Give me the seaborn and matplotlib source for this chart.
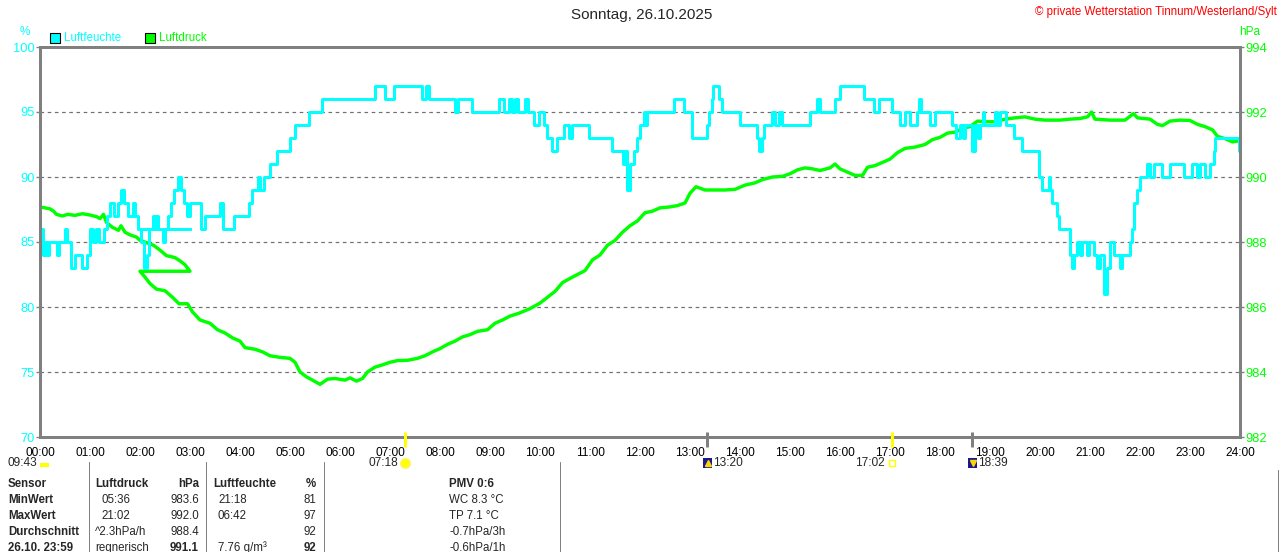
import matplotlib
matplotlib.use("Agg")
import matplotlib.pyplot as plt
import matplotlib.transforms as mtransforms
from matplotlib.patches import Rectangle
import seaborn as sns

W, H = 1280, 552

# humidity (%), step values; time in hours, DST switch: 0-3 first pass, then back to 2:00
hum_t = [0.00, 0.03, 0.06, 0.10, 0.13, 0.18, 0.33, 0.38, 0.50, 0.53, 0.62, 0.70, 0.83, 0.93,
         1.00, 1.05, 1.12, 1.18, 1.27, 1.33, 1.40, 1.47, 1.55, 1.62, 1.68, 1.75, 1.85, 1.90,
         1.95, 2.02, 2.08, 2.13, 2.18, 2.30, 2.35, 2.45, 2.50, 3.00,
         2.00, 2.25, 2.30, 2.55, 2.62, 2.68, 2.75, 2.82, 2.88, 2.94, 3.00, 3.22, 3.30, 3.60,
         3.65, 3.87, 4.17, 4.23, 4.35, 4.40, 4.47, 4.60, 4.73, 5.00, 5.10, 5.37, 5.63, 6.70,
         6.90, 7.07, 7.63, 7.72, 7.77, 8.30, 8.37, 8.63, 9.17, 9.27, 9.38, 9.43, 9.50, 9.55,
         9.70, 9.75, 9.87, 9.97, 10.07, 10.13, 10.23, 10.33, 10.47, 10.57, 10.63, 10.97,
         11.43, 11.65, 11.70, 11.73, 11.80, 11.87, 11.93, 12.00, 12.07, 12.10, 12.13, 12.67,
         12.87, 13.03, 13.33, 13.38, 13.43, 13.45, 13.57, 13.63, 14.00, 14.33, 14.38, 14.43,
         14.47, 14.63, 14.70, 14.77, 14.83, 15.40, 15.53, 15.60, 15.90, 16.00, 16.47, 16.67,
         16.77, 17.03, 17.20, 17.30, 17.40, 17.53, 17.57, 17.62, 17.80, 17.90, 18.23, 18.33,
         18.40, 18.45, 18.50, 18.63, 18.70, 18.75, 18.80, 18.85, 18.88, 19.10, 19.15, 19.20,
         19.33, 19.47, 19.63, 19.97, 20.03, 20.17, 20.20, 20.23, 20.33, 20.37, 20.60, 20.63,
         20.67, 20.73, 20.80, 20.83, 20.93, 20.97, 21.07, 21.13, 21.20, 21.27, 21.33, 21.40,
         21.47, 21.60, 21.63, 21.80, 21.83, 21.87, 21.93, 22.00, 22.13, 22.20, 22.27, 22.43,
         22.60, 22.87, 23.03, 23.13, 23.20, 23.30, 23.40, 23.47, 23.50, 23.98, 24.00]
hum_v = [85, 86, 84, 85, 84, 85, 84, 85, 86, 85, 83, 84, 83, 84,
         86, 85, 86, 85, 86, 87, 88, 87, 88, 89, 88, 87, 88, 87,
         86, 85, 83, 84, 86, 87, 86, 85, 86, 86,
         86, 87, 86, 87, 88, 89, 90, 89, 88, 87, 88, 86, 87, 88,
         86, 87, 88, 89, 90, 89, 90, 91, 92, 93, 94, 95, 96, 97,
         96, 97, 96, 97, 96, 95, 96, 95, 96, 95, 96, 95, 96, 95,
         96, 95, 94, 95, 94, 93, 92, 93, 94, 93, 94, 93,
         92, 91, 92, 89, 91, 92, 93, 94, 95, 94, 95, 96,
         95, 93, 94, 95, 96, 97, 96, 95, 94, 93, 92, 93,
         94, 95, 94, 95, 94, 95, 96, 95, 96, 97, 96, 95,
         96, 95, 94, 95, 94, 95, 96, 95, 94, 95, 94, 93,
         94, 93, 94, 92, 94, 93, 94, 95, 94, 95, 94, 95,
         94, 93, 92, 90, 89, 90, 89, 88, 87, 86, 84, 83,
         84, 85, 84, 85, 84, 85, 84, 83, 84, 81, 83, 85,
         84, 83, 84, 85, 86, 88, 89, 90, 91, 90, 91, 90,
         91, 90, 91, 90, 91, 90, 91, 92, 93, 92, 92]

# air pressure (hPa)
pres_t = [0.00, 0.10, 0.20, 0.27, 0.33, 0.45, 0.55, 0.70, 0.85, 1.00, 1.13, 1.20, 1.27, 1.33,
          1.45, 1.57, 1.62, 1.70, 1.80, 1.93, 2.00, 2.15, 2.27, 2.40, 2.53, 2.70, 2.80, 2.90, 3.00,
          2.00, 2.10, 2.20, 2.33, 2.50, 2.65, 2.78, 2.95, 3.05, 3.20, 3.40, 3.55, 3.70, 3.85,
          4.00, 4.10, 4.30, 4.45, 4.60, 4.80, 5.00, 5.10, 5.20, 5.33, 5.45, 5.60, 5.75, 5.90,
          6.10, 6.20, 6.33, 6.45, 6.55, 6.70, 6.85, 7.00, 7.15, 7.35, 7.55, 7.70, 7.85, 8.00,
          8.15, 8.30, 8.45, 8.60, 8.75, 8.95, 9.10, 9.25, 9.40, 9.60, 9.80, 10.00, 10.15, 10.30,
          10.45, 10.60, 10.75, 10.90, 11.05, 11.20, 11.35, 11.50, 11.65, 11.80, 11.95, 12.10,
          12.25, 12.40, 12.60, 12.75, 12.90, 13.00, 13.12, 13.30, 13.50, 13.70, 13.90, 14.10,
          14.30, 14.45, 14.65, 14.85, 15.00, 15.15, 15.30, 15.45, 15.60, 15.80, 15.90, 16.00,
          16.15, 16.30, 16.45, 16.55, 16.70, 16.85, 17.00, 17.15, 17.30, 17.50, 17.70, 17.85,
          18.00, 18.15, 18.30, 18.47, 18.60, 18.75, 18.90, 19.10, 19.30, 19.50, 19.70, 19.90,
          20.10, 20.40, 20.60, 20.80, 20.95, 21.03, 21.10, 21.40, 21.70, 21.87, 21.95, 22.20,
          22.35, 22.45, 22.60, 22.80, 23.00, 23.15, 23.30, 23.45, 23.55, 23.70, 23.85, 24.00]
pres_v = [989.08, 989.05, 989.02, 988.95, 988.85, 988.80, 988.85, 988.82, 988.87, 988.83,
          988.78, 988.72, 988.85, 988.60, 988.45, 988.36, 988.50, 988.30, 988.22, 988.15,
          988.05, 987.97, 987.90, 987.75, 987.58, 987.52, 987.42, 987.30, 987.10,
          987.10, 986.92, 986.72, 986.55, 986.50, 986.30, 986.10, 986.10, 985.85, 985.60,
          985.50, 985.30, 985.20, 985.05, 984.95, 984.75, 984.70, 984.62, 984.50, 984.45,
          984.42, 984.30, 984.00, 983.85, 983.75, 983.62, 983.78, 983.80, 983.75, 983.82,
          983.72, 983.80, 984.00, 984.15, 984.22, 984.30, 984.35, 984.36, 984.42, 984.50,
          984.62, 984.72, 984.85, 984.95, 985.08, 985.15, 985.25, 985.30, 985.50, 985.60,
          985.72, 985.82, 985.95, 986.12, 986.30, 986.48, 986.75, 986.88, 987.00, 987.12,
          987.45, 987.60, 987.90, 988.05, 988.30, 988.50, 988.65, 988.90, 988.95, 989.05,
          989.08, 989.12, 989.20, 989.50, 989.70, 989.60, 989.60, 989.60, 989.62, 989.75,
          989.82, 989.92, 990.00, 990.02, 990.10, 990.22, 990.28, 990.25, 990.20, 990.28,
          990.40, 990.25, 990.15, 990.05, 990.05, 990.30, 990.35, 990.45, 990.55, 990.75,
          990.88, 990.92, 991.00, 991.15, 991.22, 991.35, 991.38, 991.50, 991.55, 991.72,
          991.70, 991.70, 991.78, 991.82, 991.85, 991.78, 991.75, 991.75, 991.78, 991.80,
          991.85, 992.00, 991.78, 991.75, 991.75, 991.95, 991.82, 991.78, 991.62, 991.58,
          991.72, 991.75, 991.74, 991.62, 991.55, 991.45, 991.25, 991.18, 991.08, 991.12]

hours = list(range(25))
hour_labels = [f"{h:02d}:00" for h in hours]
hum_ticks = [70, 75, 80, 85, 90, 95, 100]
pres_ticks = [982, 984, 986, 988, 990, 992, 994]

# sun / moon events below the time axis (hour, label)
sunrise = (7 + 18 / 60, "07:18")
sunset = (17 + 2 / 60, "17:02")
moonrise = (13 + 20 / 60, "13:20")
moonset = (18 + 39 / 60, "18:39")
daylength = "09:43"

title = "Sonntag, 26.10.2025"
copyright_txt = "© private Wetterstation Tinnum/Westerland/Sylt"

col_sensor = ["Sensor", "MinWert", "MaxWert", "Durchschnitt", "26.10. 23:59"]
col_p_time = ["Luftdruck", "05:36", "21:02", "^2.3hPa/h", "regnerisch"]
col_p_val = ["hPa", "983.6", "992.0", "988.4", "991.1"]
col_h_time = ["Luftfeuchte", "21:18", "06:42", "", "7.76 g/m³"]
col_h_val = ["%", "81", "97", "92", "92"]
col_extra = ["PMV 0:6", "WC 8.3 °C", "TP 7.1 °C", "-0.7hPa/3h", "-0.6hPa/1h"]

CYAN = "#00FFFF"
GREEN = "#00FF00"
GREY = "#808080"

sns.set_style("white")
plt.rcParams["font.family"] = ["Liberation Sans", "DejaVu Sans"]
plt.rcParams["font.size"] = 8.3

fig = plt.figure(figsize=(W / 100, H / 100), dpi=100)
fig.patch.set_facecolor("white")
ax = fig.add_axes([40 / W, 1 - 437 / H, 1200 / W, 390 / H])
ax2 = ax.twinx()

# humidity axis in front, transparent, so cyan lies over green
ax.set_zorder(ax2.get_zorder() + 1)
ax.patch.set_visible(False)
ax2.patch.set_facecolor("white")

px = 72 / 100  # one pixel in points

sns.lineplot(x=pres_t, y=pres_v, ax=ax2, sort=False, estimator=None,
             color=GREEN, lw=3.4 * px)
sns.lineplot(x=hum_t, y=hum_v, ax=ax, sort=False, estimator=None,
             color=CYAN, lw=3 * px, drawstyle="steps-post")

ax.set_xlim(0, 24)
ax.set_ylim(70, 100)
ax2.set_ylim(982, 994)

ax.set_xticks(hours)
ax.set_xticklabels(hour_labels)
ax.set_yticks(hum_ticks)
ax2.set_yticks(pres_ticks)

# grid on back axis
ax2.set_xticks(hours)
ax2.grid(True, axis="both", color="#707070", lw=1.2 * px, linestyle=(0, (3, 3)))
ax.grid(False)

ax.tick_params(axis="x", colors=GREY, labelcolor="black", length=4 * px, width=1,
               pad=4, labelsize=8.6)
ax.tick_params(axis="y", colors=GREY, labelcolor=CYAN, length=4 * px, width=1,
               pad=1, labelsize=9.3)
ax2.tick_params(axis="y", colors=GREY, labelcolor=GREEN, length=4 * px, width=1,
                pad=1, labelsize=9.3)
ax2.tick_params(axis="x", length=0, labelbottom=False)
ax.set_xlabel("")
ax.set_ylabel("")
ax2.set_ylabel("")

for a in (ax, ax2):
    for s in a.spines.values():
        s.set_color(GREY)
        s.set_linewidth(3 * px)

# sun / moon marks on the time axis
trans = mtransforms.blended_transform_factory(ax.transData, ax.transAxes)
y0, y1 = (437 - 432) / 390, (437 - 447) / 390
for hh, col in [(sunrise[0], "#FFFF00"), (sunset[0], "#FFFF00"),
                (moonrise[0], GREY), (moonset[0], GREY)]:
    ax.plot([hh, hh], [y0, y1], transform=trans, color=col, lw=3 * px,
            clip_on=False, zorder=10, solid_capstyle="butt")


def ftxt(x, y, s, **kw):
    kw.setdefault("va", "center")
    return fig.text(x / W, 1 - y / H, s, **kw)


def fx(x):
    return x / W


def fy(y):
    return 1 - y / H


ftxt(642, 15, title, ha="center", fontsize=11)
ftxt(1277, 12, copyright_txt, ha="right", color="#FF0000", fontsize=8.3)
ftxt(25, 32, "%", ha="center", color=CYAN, fontsize=8.5)
ftxt(1250, 32, "hPa", ha="center", color=GREEN, fontsize=8.5)

# legend
for x0, col, lab in [(50, CYAN, "Luftfeuchte"), (145, GREEN, "Luftdruck")]:
    fig.patches.append(Rectangle((fx(x0), fy(43)), 10 / W, 10 / H, transform=fig.transFigure,
                                 facecolor=col, edgecolor="black", lw=0.8))
    ftxt(x0 + 14, 38, lab, ha="left", color=col, fontsize=8.3)

# event labels
ftxt(37, 463, daylength, ha="right", fontsize=8.6)
fig.patches.append(Rectangle((fx(40), fy(467)), 9 / W, 4 / H, transform=fig.transFigure,
                             facecolor="#FFFF00", edgecolor="none"))
ftxt(398, 463, sunrise[1], ha="right", fontsize=8.6)
fig.add_artist(plt.Line2D([fx(405)], [fy(463)], marker="o", markersize=7, color="#FFFF00",
                          markeredgecolor="#FFF27A", transform=fig.transFigure))
ftxt(885, 463, sunset[1], ha="right", fontsize=8.6)
fig.patches.append(Rectangle((fx(889), fy(466)), 6 / W, 6 / H, transform=fig.transFigure,
                             facecolor="white", edgecolor="#FFFF00", lw=1))
for xi, lab, mark in [(703, moonrise[1], "^"), (968, moonset[1], "v")]:
    fig.patches.append(Rectangle((fx(xi), fy(468)), 9 / W, 10 / H, transform=fig.transFigure,
                                 facecolor="#1A1A8C", edgecolor="none"))
    fig.add_artist(plt.Line2D([fx(xi + 5)], [fy(463)], marker=mark, markersize=4,
                              color="#FFD700", transform=fig.transFigure))
    ftxt(xi + 10, 463, lab, ha="left", fontsize=8.6)

# table separators
for xs in [89, 206, 324, 560]:
    fig.add_artist(plt.Line2D([fx(xs), fx(xs)], [fy(462), fy(552)], color=GREY, lw=1 * px,
                              transform=fig.transFigure))
fig.add_artist(plt.Line2D([fx(1278), fx(1278)], [fy(470), fy(552)], color=GREY, lw=1 * px,
                          transform=fig.transFigure))

row_y = [484, 500, 516, 532, 548]
for i, yy in enumerate(row_y):
    head = i == 0
    last = i == len(row_y) - 1
    ftxt(8, yy, col_sensor[i], ha="left", fontweight="bold")
    xt = 95 if i in (0, 3, 4) else 101
    ftxt(xt, yy, col_p_time[i], ha="left", fontweight="bold" if head else "normal")
    ftxt(199, yy, col_p_val[i], ha="right", fontweight="bold" if (head or last) else "normal")
    xt = 213 if head else 218
    ftxt(xt, yy, col_h_time[i], ha="left", fontweight="bold" if head else "normal")
    ftxt(316, yy, col_h_val[i], ha="right", fontweight="bold" if (head or last) else "normal")
    ftxt(449, yy, col_extra[i], ha="left", fontweight="bold" if head else "normal")

fig.savefig("out.png", dpi=100, facecolor="white")
